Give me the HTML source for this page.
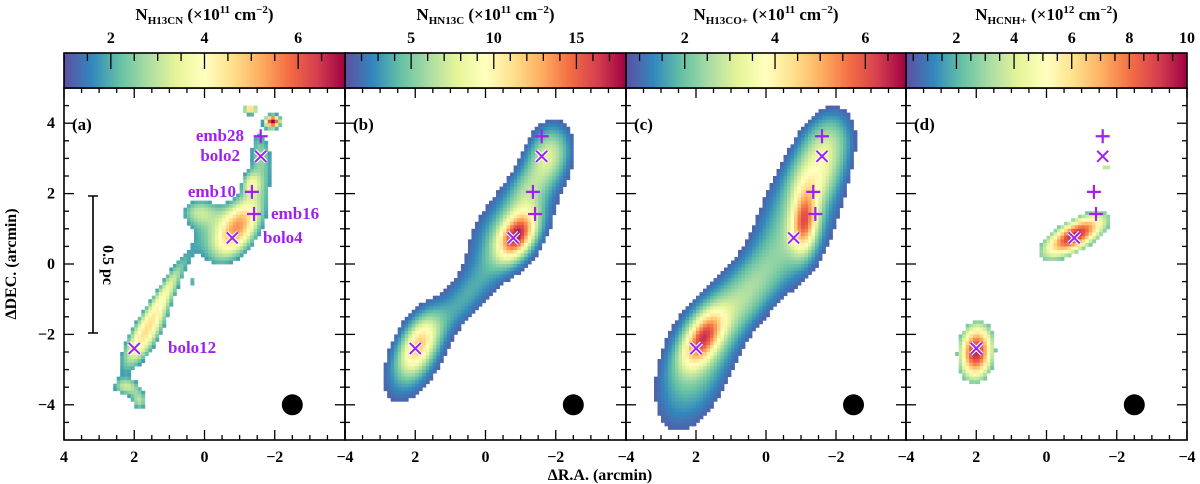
<!DOCTYPE html>
<html><head><meta charset="utf-8">
<style>
html,body{margin:0;padding:0;background:#fff;}
svg{display:block;font-family:"Liberation Serif",serif;font-weight:bold;}
</style></head>
<body>
<svg id="fig" width="1200" height="484" viewBox="0 0 1200 484" xmlns="http://www.w3.org/2000/svg">
<defs>
<linearGradient id="spec" x1="0" x2="1" y1="0" y2="0">
<stop offset="0" stop-color="#5e4fa2"/><stop offset="0.1" stop-color="#3288bd"/><stop offset="0.2" stop-color="#66c2a5"/><stop offset="0.3" stop-color="#abdda4"/><stop offset="0.4" stop-color="#e6f598"/><stop offset="0.5" stop-color="#ffffbf"/><stop offset="0.6" stop-color="#fee08b"/><stop offset="0.7" stop-color="#fdae61"/><stop offset="0.8" stop-color="#f46d43"/><stop offset="0.9" stop-color="#d53e4f"/><stop offset="1" stop-color="#9e0142"/>
</linearGradient>
</defs>
<g id="layer"></g>
</svg>
<script>
// ---- data ----
const panelLetters = ["(a)","(b)","(c)","(d)"];
const cbarMin = [1, 1, 0.7, 0.25];
const cbarMax = [7, 18, 6.9, 10];
const cbarTicks = [[2,4,6],[5,10,15],[2,4,6],[2,4,6,8,10]];
const cbarMinorStep = [0.5, 1, 0.5, 0.5];
const maskThreshold = [1.8, 1.6, 0.9, 2.4];
// blobs: [x_arcmin, y_arcmin, amplitude, sigmaMajor, sigmaMinor, angleDeg]
const blobsA = [[-1.0,1.1,3.4,0.75,0.35,60],[-0.55,0.9,2.3,0.95,0.65,30],[-1.6,3.1,2.5,0.7,0.3,95],[-1.3,2.3,2.1,0.25,0.2,90],[-1.95,4.05,7,0.15,0.13,0],[-1.3,4.4,5,0.14,0.1,0],[1.7,-2.0,4.4,0.9,0.3,60],[1.0,-0.6,2.4,0.7,0.18,60],[2.2,-3.5,2.5,0.3,0.18,0],[1.85,-3.9,2.8,0.2,0.22,0],[0.35,-0.5,2.1,0.08,0.06,0],[1.0,-4.1,2.1,0.08,0.1,0],[0.2,1.5,2.2,0.4,0.3,0]];
const blobsB = [[-0.9,0.8,13,0.5,0.3,60],[-0.7,1.0,5,1.1,0.6,55],[-1.8,3.1,7,0.6,0.4,75],[0.6,-1.0,3,0.9,0.35,50],[1.9,-2.3,8,0.6,0.3,65],[2.0,-2.6,4,1.0,0.5,65],[-1.2,2.1,3,0.5,0.35,70]];
const blobsC = [[-1.1,1.2,3.8,0.6,0.25,85],[-0.9,1.3,2.2,1.5,0.8,70],[-1.7,3.3,2.3,0.8,0.5,70],[0.6,-0.9,1.8,1.1,0.5,55],[1.8,-2.1,4.0,0.6,0.3,60],[2.0,-2.8,2.2,1.5,0.75,70],[-1.3,2.3,1.0,0.5,0.4,60]];
const blobsD = [[-0.8,0.8,9.5,0.7,0.28,30],[2.0,-2.5,9.5,0.55,0.33,85],[-1.7,2.75,4,0.1,0.1,0]];
const allBlobs = [blobsA, blobsB, blobsC, blobsD];
const markerPlusX = [-1.6, -1.35, -1.41];
const markerPlusY = [3.63, 2.05, 1.42];
const markerCrossX = [-1.6, -0.79, 2.0];
const markerCrossY = [3.06, 0.74, -2.4];
const xTickLabels = [4,2,0,-2,-4];
const yTickLabels = [-4,-2,0,2,4];
const cbarTitles = [["H13CN","11"],["HN13C","11"],["H13CO+","11"],["HCNH+","12"]];

// ---- layout ----
const NS="http://www.w3.org/2000/svg";
const L=[64,345,626,906], PW=[281,281,280,281], TOP=88, PH=352, CBT=53;
const layer=document.getElementById('layer');
function el(tag,attrs,parent){const e=document.createElementNS(NS,tag);for(const k in attrs)e.setAttribute(k,attrs[k]);(parent||layer).appendChild(e);return e;}
function xs(i,x){return L[i]+(4-x)*PW[i]/8;}
function ys(y){return TOP+(5-y)*PH/10;}
const stops=["#5e4fa2","#3288bd","#66c2a5","#abdda4","#e6f598","#ffffbf","#fee08b","#fdae61","#f46d43","#d53e4f","#9e0142"];
function hex(h){return [parseInt(h.substr(1,2),16),parseInt(h.substr(3,2),16),parseInt(h.substr(5,2),16)];}
function cmap(t){t=Math.max(0,Math.min(1,t));const p=t*10,i=Math.min(9,Math.floor(p)),f=p-i;const a=hex(stops[i]),b=hex(stops[i+1]);return `rgb(${Math.round(a[0]+(b[0]-a[0])*f)},${Math.round(a[1]+(b[1]-a[1])*f)},${Math.round(a[2]+(b[2]-a[2])*f)})`;}
function field(bl,x,y){let v=0;for(const b of bl){const u=-(x-b[0]),w=y-b[1],t=b[5]*Math.PI/180;const a=u*Math.cos(t)+w*Math.sin(t),c=-u*Math.sin(t)+w*Math.cos(t);v+=b[2]*Math.exp(-0.5*(a*a/(b[3]*b[3])+c*c/(b[4]*b[4])));}return v;}

for(let i=0;i<4;i++){
  const g=el('g',{});
  
  
  const step=0.1, cw=PW[i]/80, ch=PH/100;
  for(let xi=0;xi<80;xi++){for(let yi=0;yi<100;yi++){
    const x=4-(xi+0.5)*step, y=5-(yi+0.5)*step;
    const v=field(allBlobs[i],x,y);
    if(v>maskThreshold[i]){
      const r=el('rect',{x:(xs(i,x)-cw/2).toFixed(2),y:(ys(y)-ch/2).toFixed(2),width:(cw+0.4).toFixed(2),height:(ch+0.4).toFixed(2),fill:cmap((v-cbarMin[i])/(cbarMax[i]-cbarMin[i]))},g);
      
      
    }
  }}
  const fr=el('rect',{x:L[i],y:TOP,width:PW[i],height:PH,fill:'none',stroke:'#000','stroke-width':1.6});
  
  
  for(let k=0;k<=16;k++){const x=4-k*0.5,len=(k%4===0)?10:5,px=xs(i,x);
    el('line',{x1:px,x2:px,y1:TOP+PH,y2:TOP+PH-len,stroke:'#000','stroke-width':1.3});
    el('line',{x1:px,x2:px,y1:TOP,y2:TOP+len,stroke:'#000','stroke-width':1.3});}
  for(let k=-9;k<=9;k++){const y=k*0.5,len=(k%4===0)?10:5,py=ys(y);
    el('line',{x1:L[i],x2:L[i]+len,y1:py,y2:py,stroke:'#000','stroke-width':1.3});
    el('line',{x1:L[i]+PW[i],x2:L[i]+PW[i]-len,y1:py,y2:py,stroke:'#000','stroke-width':1.3});}
  xTickLabels.forEach(v=>{ if(i>0 && v===4) return;
    const t=el('text',{x:xs(i,v),y:462,'text-anchor':'middle','font-size':16});t.textContent=String(v).replace('-','\u2212');
    
    });
  const pl=el('text',{x:L[i]+8,y:TOP+42,'font-size':17});pl.textContent=panelLetters[i];
  
  
  const bm=el('circle',{cx:xs(i,-2.5),cy:ys(-4),r:10.5,fill:'#000'});
  
  
  for(let m=0;m<markerPlusX.length;m++){
    const px=xs(i,markerPlusX[m]),py=ys(markerPlusY[m]);
    const p=el('path',{d:`M${px-7},${py}H${px+7}M${px},${py-7}V${py+7}`,stroke:'#a020f0','stroke-width':2.2,fill:'none'});
    
    
  }
  for(let m=0;m<markerCrossX.length;m++){
    const px=xs(i,markerCrossX[m]),py=ys(markerCrossY[m]);
    const d=`M${px-5.5},${py-5.5}L${px+5.5},${py+5.5}M${px+5.5},${py-5.5}L${px-5.5},${py+5.5}`;
    el('path',{d:d,stroke:'#fff','stroke-width':4.2,fill:'none'});
    const c=el('path',{d:d,stroke:'#a020f0','stroke-width':2,fill:'none'});
    
    
  }
  const cb=el('rect',{x:L[i],y:CBT,width:PW[i],height:35,fill:'url(#spec)',stroke:'#000','stroke-width':1.6});
  
  
  const cx=v=>L[i]+(v-cbarMin[i])/(cbarMax[i]-cbarMin[i])*PW[i];
  for(let v=Math.ceil(cbarMin[i]/cbarMinorStep[i])*cbarMinorStep[i];v<cbarMax[i]-1e-6;v+=cbarMinorStep[i]){
    const major=cbarTicks[i].some(t=>Math.abs(t-v)<1e-6);
    el('line',{x1:cx(v),x2:cx(v),y1:CBT,y2:CBT+(major?16:8),stroke:'#000','stroke-width':1.3});
  }
  cbarTicks[i].forEach(v=>{const t=el('text',{x:Math.min(cx(v),1188),y:43,'text-anchor':'middle','font-size':16});t.textContent=v;
    
    });
  const tt=el('text',{x:L[i]+PW[i]/2,y:20,'text-anchor':'middle','font-size':17});
  
  
  tt.innerHTML=`N<tspan font-size="11" dy="4">${cbarTitles[i][0]}</tspan><tspan dy="-4"> (×10</tspan><tspan font-size="11" dy="-7">${cbarTitles[i][1]}</tspan><tspan dy="7"> cm</tspan><tspan font-size="11" dy="-7">−2</tspan><tspan dy="7">)</tspan>`;
}
yTickLabels.forEach(v=>{const t=el('text',{x:55,y:ys(v)+5,'text-anchor':'end','font-size':16});t.textContent=String(v).replace('-','\u2212');
  
  });
const xt=el('text',{x:600,y:480,'text-anchor':'middle','font-size':16});xt.textContent='ΔR.A. (arcmin)';


const yt=el('text',{x:0,y:0,'text-anchor':'middle','font-size':16,transform:'translate(16,264) rotate(-90)'});yt.textContent='ΔDEC. (arcmin)';


const srcNames=["emb28","bolo2","emb10","emb16","bolo4","bolo12"];
const srcX=[244,240,236,271,263,168], srcY=[136,156,192,214,238,348], srcAnchor=["end","end","end","start","start","start"];
srcNames.forEach((n,k)=>{const t=el('text',{x:srcX[k],y:srcY[k]+5,'text-anchor':srcAnchor[k],'font-size':17,fill:'#a020f0'});t.textContent=n;
  
  });
const sb=el('path',{d:'M93,196V333M88,196H98M88,333H98',stroke:'#000','stroke-width':1.6,fill:'none'});


const st=el('text',{x:0,y:0,'text-anchor':'middle','font-size':16,transform:'translate(103,265) rotate(90)'});st.textContent='0.5 pc';


</script>
</body></html>
